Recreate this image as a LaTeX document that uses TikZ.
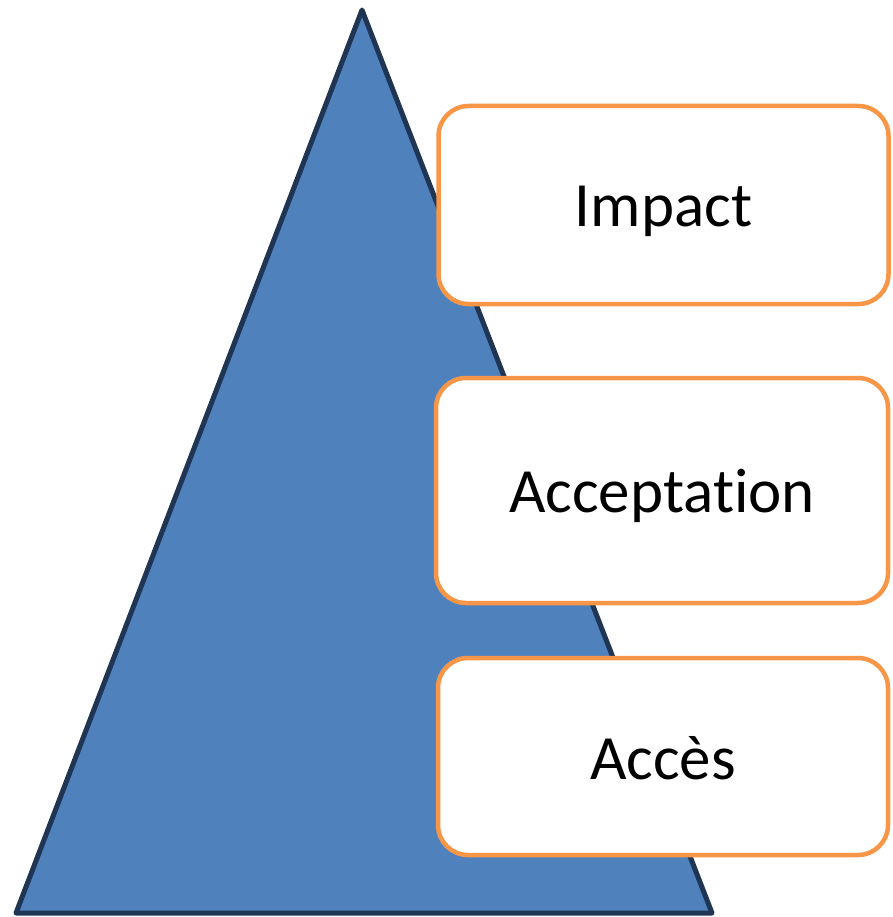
\documentclass[tikz,border=0pt]{standalone}
\usepackage{fontspec}
\setmainfont{Carlito}[Ligatures={NoCommon,NoContextual,NoRare}]
\definecolor{triblue}{HTML}{4F81BD}
\definecolor{tristroke}{HTML}{1F3553}
\definecolor{boxorange}{HTML}{F79646}
\begin{document}
\begin{tikzpicture}[x=1pt,y=-1pt,
  levelbox/.style={draw=boxorange,line width=4.5pt,fill=white,rounded corners=30pt,
    minimum width=450pt,inner sep=0pt,font=\fontsize{63}{70}\selectfont,text=black}]
\useasboundingbox (0,0) rectangle (892,917);
\draw[fill=triblue,draw=tristroke,line width=5pt,line join=round]
  (362,10) -- (712,913) -- (16,913) -- cycle;
\node[levelbox,minimum height=198pt,minimum width=450pt] (impact) at (663.5,205) {\raisebox{-6pt}[\height][\depth]{Impact}};
\node[levelbox,minimum height=225pt,minimum width=452pt] (accept) at (662,490.5) {\raisebox{-5pt}[\height][\depth]{Acceptat\kern0pt ion}};
\node[levelbox,minimum height=197pt,minimum width=450pt] (acces) at (663,756.5) {\raisebox{-2pt}[\height][\depth]{Accès}};
\end{tikzpicture}
\end{document}
